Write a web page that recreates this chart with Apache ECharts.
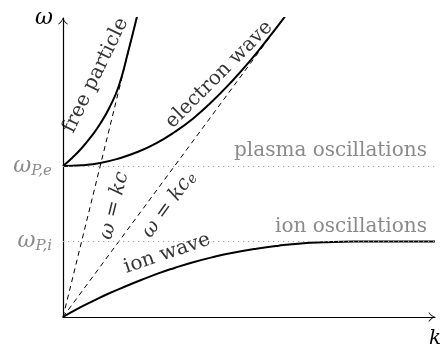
<!DOCTYPE html>
<html>
<head>
<meta charset="utf-8">
<script src="https://cdn.jsdelivr.net/npm/echarts@6/dist/echarts.min.js"></script>
<style>
  html, body { margin: 0; padding: 0; background: #fff; }
  #chart { width: 444px; height: 350px; }
</style>
</head>
<body>
<div id="chart"></div>
<script>
// Plasma dispersion sketch: wavenumber k (x) against frequency ω (y)

// free particle branch, starting at ω_P,e
const freeK = [0, 0.25, 0.5, 0.75, 1.0, 1.25, 1.5, 1.75, 2.0];
const freeW = [4, 4.22, 4.47, 4.77, 5.12, 5.55, 6.12, 7.02, 8.0];

// electron wave branch, starting at ω_P,e
const elecK = [0, 0.5, 1.0, 1.5, 2.0, 2.5, 3.0, 3.5, 4.0, 4.5, 5.0, 5.5, 6.0];
const elecW = [4, 4.02, 4.08, 4.2, 4.37, 4.6, 4.9, 5.26, 5.7, 6.2, 6.75, 7.36, 8.0];

// ion wave branch, levelling off at ω_P,i
const ionK = [0, 0.4, 0.8, 1.2, 1.7, 2.1, 2.6, 3.0, 3.5, 4.0, 4.5, 5.2, 5.8, 6.4, 7.0, 7.8, 10];
const ionW = [0, 0.22, 0.42, 0.61, 0.82, 0.98, 1.17, 1.3, 1.45, 1.58, 1.69, 1.81, 1.89, 1.95, 1.98, 2.0, 2.0];

// straight reference lines ω = kc and ω = kc_e
const lightK = [0, 2];
const lightW = [0, 8];
const soundK = [0, 6];
const soundW = [0, 8];

// characteristic frequencies and their names
const levelValues = [4, 2];
const levelSubs = ['P,e', 'P,i'];
const levelTexts = ['plasma oscillations', 'ion oscillations'];

// curve names, set along each branch (anchor in k, ω; angle in degrees)
const noteTexts = ['free particle', 'electron wave', 'ion wave', '{m|ω} = {m|kc}', '{m|ω} = {m|kc}{s|e}'];
const noteAnchors = [[0.88, 6.4], [4.2, 6.42], [2.8, 1.68], [1.38, 2.95], [2.85, 2.98]];
const noteAngles = [64, 45, 19, 76, 54];

const SERIF = 'DejaVu Serif';
const GREY = '#8a8a8a';
const ARROW = 'path://M0,8 C3,5.6 5,3.2 6,0 C7,3.2 9,5.6 12,8 L11.3,8.7 C8.6,6.6 6.8,4.4 6,2.2 C5.2,4.4 3.4,6.6 0.7,8.7 Z';

const pairs = (xs, ys) => xs.map((x, i) => [x, ys[i]]);

const chart = echarts.init(document.getElementById('chart'), null, { renderer: 'canvas' });

const curveStyle = { color: '#000', width: 2 };
const dashStyle = { color: '#000', width: 1, type: [5, 4] };

chart.setOption({
  animation: false,
  backgroundColor: '#fff',
  grid: { left: 63, top: 18, width: 377, height: 299 },
  xAxis: {
    type: 'value', min: 0, max: 10,
    name: 'k',
    nameLocation: 'end',
    nameGap: 0,
    nameTextStyle: {
      fontFamily: SERIF, fontStyle: 'italic', fontSize: 20, color: '#000',
      align: 'center', verticalAlign: 'top', padding: [12, 0, 0, 0]
    },
    axisLine: {
      show: true, onZero: false,
      symbol: ['none', ARROW], symbolSize: [12, 7], symbolOffset: [0, -3],
      lineStyle: { color: '#000', width: 1.2 }
    },
    axisTick: { show: false },
    axisLabel: { show: false },
    splitLine: { show: false }
  },
  yAxis: {
    type: 'value', min: 0, max: 7.92, interval: 2,
    name: 'ω',
    nameLocation: 'end',
    nameGap: 0,
    nameTextStyle: {
      fontFamily: SERIF, fontStyle: 'italic', fontSize: 22, color: '#000',
      align: 'right', verticalAlign: 'middle', padding: [0, 10, 6, 0]
    },
    axisLine: {
      show: true, onZero: false,
      symbol: ['none', ARROW], symbolSize: [12, 7], symbolOffset: [0, -3],
      lineStyle: { color: '#000', width: 1.2 }
    },
    axisTick: { show: false },
    splitLine: { show: false },
    axisLabel: {
      show: true,
      margin: 11,
      showMinLabel: false,
      showMaxLabel: false,
      formatter: function (v) {
        const i = levelValues.indexOf(v);
        return i < 0 ? '' : '{w|ω}{s|' + levelSubs[i] + '}';
      },
      rich: {
        w: { fontFamily: SERIF, fontStyle: 'italic', fontSize: 22, color: GREY },
        s: { fontFamily: SERIF, fontStyle: 'italic', fontSize: 15, color: GREY, padding: [10, 0, 0, 0] }
      }
    }
  },
  series: [
    {
      type: 'line', z: 1, data: [], silent: true,
      markLine: {
        silent: true,
        symbol: ['none', 'none'],
        lineStyle: { color: '#a0a0a0', width: 1, type: [1.2, 3.8] },
        label: {
          show: true,
          position: 'insideEndTop',
          formatter: '{b}',
          fontFamily: SERIF, fontSize: 20, color: GREY,
          distance: [8, 5]
        },
        data: levelValues.map((v, i) => ({ yAxis: v, name: levelTexts[i] }))
      }
    },
    { type: 'line', z: 2, data: pairs(lightK, lightW), showSymbol: false, lineStyle: dashStyle },
    { type: 'line', z: 2, data: pairs(soundK, soundW), showSymbol: false, lineStyle: dashStyle },
    { type: 'line', z: 3, data: pairs(freeK, freeW), showSymbol: false, smooth: true, lineStyle: curveStyle },
    { type: 'line', z: 3, data: pairs(elecK, elecW), showSymbol: false, smooth: true, lineStyle: curveStyle },
    { type: 'line', z: 3, data: pairs(ionK, ionW), showSymbol: false, smooth: true, lineStyle: curveStyle },
    {
      type: 'scatter', z: 5, symbolSize: 0, silent: true,
      label: {
        show: true,
        position: 'inside',
        fontFamily: SERIF, fontSize: 20, color: '#000',
        rich: {
          m: { fontFamily: SERIF, fontStyle: 'italic', fontSize: 20, color: '#000' },
          s: { fontFamily: SERIF, fontStyle: 'italic', fontSize: 14, color: '#000', padding: [8, 0, 0, 0] }
        }
      },
      data: noteAnchors.map((a, i) => ({
        value: a,
        label: { rotate: noteAngles[i], formatter: noteTexts[i] }
      }))
    }
  ]
});
</script>
</body>
</html>
